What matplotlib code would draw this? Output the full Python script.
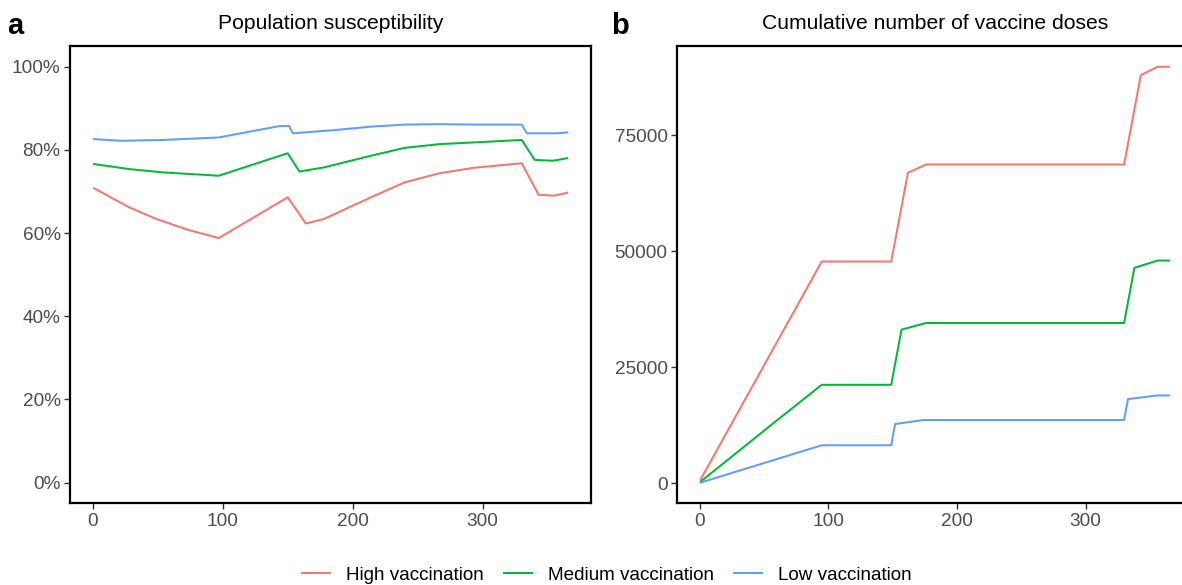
import matplotlib
matplotlib.use("Agg")
import matplotlib.pyplot as plt
from matplotlib.ticker import PercentFormatter, FixedLocator

plt.rcParams["font.family"] = ["Liberation Sans", "DejaVu Sans"]

# Scenario labels and colours
scenarios = ["High vaccination", "Medium vaccination", "Low vaccination"]
colors = ["#F8766D", "#00BA38", "#619CFF"]

# Population susceptibility (%), by day
days_susc_high = [1, 28, 49, 73, 97, 150, 164, 178, 214, 240, 267, 293, 330, 343, 355, 365]
susc_high = [70.8, 66.2, 63.4, 60.8, 58.8, 68.6, 62.3, 63.4, 68.6, 72.2, 74.4, 75.7, 76.8, 69.2, 69.0, 69.7]

days_susc_med = [1, 28, 54, 97, 150, 159, 178, 214, 240, 267, 293, 330, 340, 354, 365]
susc_med = [76.6, 75.4, 74.6, 73.8, 79.2, 74.8, 75.8, 78.6, 80.5, 81.4, 81.8, 82.4, 77.6, 77.4, 78.0]

days_susc_low = [1, 22, 54, 97, 143, 151, 154, 187, 214, 240, 267, 293, 330, 334, 357, 365]
susc_low = [82.6, 82.2, 82.4, 83.0, 85.7, 85.8, 84.0, 84.8, 85.6, 86.1, 86.2, 86.1, 86.1, 84.0, 84.0, 84.2]

# Cumulative vaccine doses, by day
days_dose_high = [1, 95, 149, 162, 176, 330, 343, 356, 365]
dose_high = [860, 47780, 47780, 66910, 68700, 68700, 87960, 89760, 89760]

days_dose_med = [1, 60, 95, 149, 157, 176, 330, 338, 356, 365]
dose_med = [360, 13500, 21200, 21200, 33090, 34530, 34530, 46420, 47990, 47990]

days_dose_low = [1, 95, 149, 152, 174, 330, 333, 356, 365]
dose_low = [140, 8170, 8170, 12750, 13610, 13610, 18120, 18910, 18910]

x_ticks = [0, 100, 200, 300]
susc_ticks = [0, 20, 40, 60, 80, 100]
dose_ticks = [0, 25000, 50000, 75000]

W, H = 1182, 585
fig = plt.figure(figsize=(W / 100, H / 100), dpi=100)

x_lo, x_hi = 1 - 0.05 * 364, 365 + 0.05 * 364
bottom = 1 - 503.3 / H
height = (503.3 - 46) / H

# panel placement in pixels: day 0 position and pixels per day
x0_a, k_a = 92.7, 1.300
x0_b, k_b = 699.5, 1.2867
ax1 = fig.add_axes([(x0_a + x_lo * k_a) / W, bottom, (x_hi - x_lo) * k_a / W, height])
ax2 = fig.add_axes([(x0_b + x_lo * k_b) / W, bottom, (x_hi - x_lo) * k_b / W, height])

lw = 1.45
susc = [(days_susc_high, susc_high), (days_susc_med, susc_med), (days_susc_low, susc_low)]
dose = [(days_dose_high, dose_high), (days_dose_med, dose_med), (days_dose_low, dose_low)]

handles = []
for (d, v), c, name in zip(susc, colors, scenarios):
    h, = ax1.plot(d, v, color=c, lw=lw, label=name)
    handles.append(h)
for (d, v), c in zip(dose, colors):
    ax2.plot(d, v, color=c, lw=lw)

ax1.set_xlim(x_lo, x_hi)
ax2.set_xlim(x_lo, x_hi)
ax1.set_ylim(-5, 105)
ax2.margins(y=0.05)

ax1.xaxis.set_major_locator(FixedLocator(x_ticks))
ax2.xaxis.set_major_locator(FixedLocator(x_ticks))
ax1.yaxis.set_major_locator(FixedLocator(susc_ticks))
ax2.yaxis.set_major_locator(FixedLocator(dose_ticks))
ax1.yaxis.set_major_formatter(PercentFormatter(100, decimals=0))

for ax in (ax1, ax2):
    for s in ax.spines.values():
        s.set_linewidth(1.6)
        s.set_color("black")
    ax.tick_params(axis="both", length=4, width=1.0, color="#333333",
                   labelsize=13.7, labelcolor="#4D4D4D", pad=3)

ax1.set_title("Population susceptibility", fontsize=15.2, pad=12.5, color="black")
ax2.set_title("Cumulative number of vaccine doses", fontsize=15.2, pad=12.5, color="black")

fig.text(7.5 / W, 1 - 26.5 / H, "a", fontsize=21, fontweight="bold", va="center", ha="left")
fig.text(611.5 / W, 1 - 26.5 / H, "b", fontsize=21, fontweight="bold", va="center", ha="left")

fig.legend(handles=handles, labels=scenarios, loc="center",
           bbox_to_anchor=(607 / W, 1 - 575 / H), ncol=3, frameon=False,
           fontsize=13.6, handlelength=1.5, handletextpad=0.85, columnspacing=1.05)

fig.savefig("out.png", dpi=100)
